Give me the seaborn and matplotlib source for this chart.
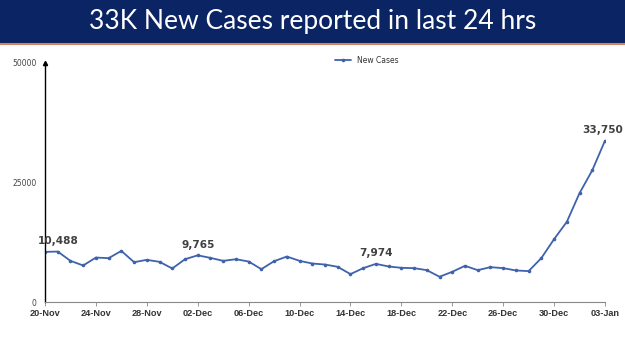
import matplotlib
matplotlib.use("Agg")
import matplotlib.pyplot as plt
import matplotlib.dates as mdates
import seaborn as sns
import pandas as pd

start_date = "2021-11-20"
new_cases = [10488, 10550, 8610, 7640, 9300, 9170, 10690, 8330, 8820, 8400,
             7010, 8950, 9765, 9230, 8610, 8950, 8470, 6870, 8540, 9510,
             8610, 8050, 7840, 7360, 5830, 7080, 7974, 7430, 7150, 7080,
             6660, 5280, 6320, 7570, 6660, 7290, 7080, 6600, 6460, 9195,
             13154, 16764, 22775, 27553, 33750]
labelled_idx = [0, 12, 26, 44]
title = "33K New Cases reported in last 24 hrs"
series_name = "New Cases"
y_ticks = [0, 25000, 50000]

dates = pd.date_range(start_date, periods=len(new_cases), freq="D")
df = pd.DataFrame({"date": dates, series_name: new_cases})

sns.set_theme(style="white")
plt.rcParams["font.family"] = ["DejaVu Sans"]

fig = plt.figure(figsize=(6.25, 3.51), dpi=100)
fig.patch.set_facecolor("white")

# title banner
banner = fig.add_axes([0, 1 - 43 / 351, 1, 43 / 351])
banner.set_facecolor("#0B2463")
banner.set_xticks([]); banner.set_yticks([])
for s in banner.spines.values():
    s.set_visible(False)
banner.text(0.5, 0.5, title, color="white", fontsize=19, family="Lato",
            ha="center", va="center", transform=banner.transAxes)
fig.add_artist(plt.Line2D([0, 1], [1 - 44 / 351, 1 - 44 / 351], color="#D9825B",
                          lw=1.5, transform=fig.transFigure))

ax = fig.add_axes([45 / 625, 1 - 302 / 351, 560 / 625, 239 / 351])
line_color = "#3F62AD"
sns.lineplot(data=df, x="date", y=series_name, ax=ax, color=line_color, lw=1.3,
             marker="o", markersize=2.6, markeredgewidth=0, label=series_name)

ax.set_xlim(dates[0], dates[-1])
ax.set_ylim(0, 50000)
ax.set_xlabel(""); ax.set_ylabel("")
ax.set_yticks(y_ticks)
ax.set_yticklabels([str(v) for v in y_ticks], fontsize=5.5, color="#444444")
ax.set_xticks(dates[::4])
ax.xaxis.set_major_formatter(mdates.DateFormatter("%d-%b"))
for lbl in ax.get_xticklabels():
    lbl.set_fontsize(6.6); lbl.set_fontweight("bold"); lbl.set_color("#333333")
    lbl.set_family("Liberation Sans")
ax.tick_params(axis="x", length=3, width=0.6, color="#888888", pad=2, bottom=True)
ax.tick_params(axis="y", length=0, pad=6)

for s in ["top", "right"]:
    ax.spines[s].set_visible(False)
ax.spines["left"].set_color("black"); ax.spines["left"].set_linewidth(1.0)
ax.spines["bottom"].set_color("#888888"); ax.spines["bottom"].set_linewidth(0.8)
ax.plot(0, 1, marker="^", color="black", markersize=3, transform=ax.transAxes,
        clip_on=False)

offsets = {0: (-5, 4), 12: (0, 4), 26: (0, 4), 44: (-2, 4)}
for i in labelled_idx:
    dx, dy = offsets[i]
    ax.annotate(f"{new_cases[i]:,}", (dates[i], new_cases[i]), xytext=(dx, dy),
                textcoords="offset points", ha="left" if i == 0 else "center",
                va="bottom", fontsize=7.6, fontweight="bold", color="#404040")

leg = ax.legend(loc="upper center", bbox_to_anchor=(0.575, 1.06), frameon=False,
                fontsize=5.5, handlelength=2, markerscale=1)
for t in leg.get_texts():
    t.set_color("#333333")

fig.savefig("out.png", dpi=100, facecolor="white")
